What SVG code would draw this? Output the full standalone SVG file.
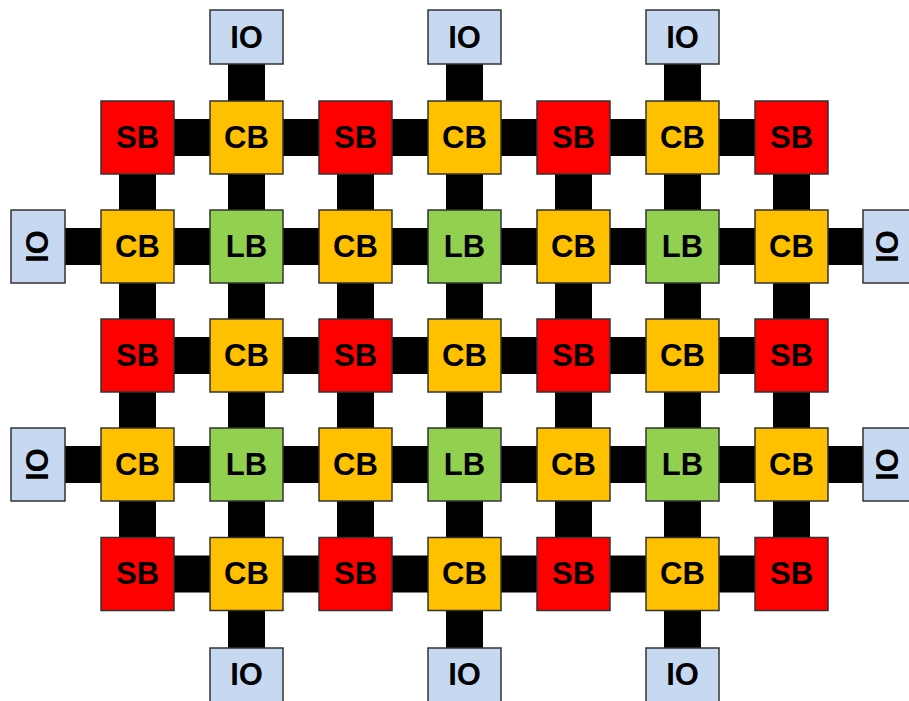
<svg xmlns="http://www.w3.org/2000/svg" width="909" height="701" viewBox="0 0 909 701">
<style>
.b{stroke:#333;stroke-width:1.5}
.sb{fill:#FF0000}.cb{fill:#FFC000}.lb{fill:#92D050}.io{fill:#C6D9F1}
text{font-family:"Liberation Sans",Arial,sans-serif;font-weight:bold;font-size:31px;text-anchor:middle;fill:#000}
.c{stroke:#000;stroke-width:37;fill:none}
</style>
<rect width="909" height="701" fill="#fff"/>
<g id="connectors" class="c">
<path d="M137.5 137.5H791.5M137.5 246.5H791.5M137.5 355.5H791.5M137.5 464.5H791.5M137.5 574H791.5"/>
<path d="M137.5 137.5V574M246.5 137.5V574M355.5 137.5V574M464.5 137.5V574M573.5 137.5V574M682.5 137.5V574M791.5 137.5V574"/>
<path d="M246.5 37V137.5M464.5 37V137.5M682.5 37V137.5"/>
<path d="M246.5 574V675M464.5 574V675M682.5 574V675"/>
<path d="M38 246.5H137.5M38 464.5H137.5M791.5 246.5H890M791.5 464.5H890"/>
</g>
<g id="io-t1"><rect class="b io" x="210" y="10" width="73" height="54"/><text x="246.5" y="47.5">IO</text></g>
<g id="io-t2"><rect class="b io" x="428" y="10" width="73" height="54"/><text x="464.5" y="47.5">IO</text></g>
<g id="io-t3"><rect class="b io" x="646" y="10" width="73" height="54"/><text x="682.5" y="47.5">IO</text></g>
<g id="io-b1"><rect class="b io" x="210" y="648" width="73" height="56"/><text x="246.5" y="685">IO</text></g>
<g id="io-b2"><rect class="b io" x="428" y="648" width="73" height="56"/><text x="464.5" y="685">IO</text></g>
<g id="io-b3"><rect class="b io" x="646" y="648" width="73" height="56"/><text x="682.5" y="685">IO</text></g>
<g id="io-l1"><rect class="b io" x="11" y="210" width="54" height="73"/><text transform="translate(38,246.5) rotate(-90)" x="0" y="9.8">IO</text></g>
<g id="io-l2"><rect class="b io" x="11" y="428" width="54" height="73"/><text transform="translate(38,464.5) rotate(-90)" x="0" y="9.8">IO</text></g>
<g id="io-r1"><rect class="b io" x="863" y="210" width="56" height="73"/><text transform="translate(888.5,246.5) rotate(-90)" x="0" y="9.8">IO</text></g>
<g id="io-r2"><rect class="b io" x="863" y="428" width="56" height="73"/><text transform="translate(888.5,464.5) rotate(-90)" x="0" y="9.8">IO</text></g>

<g id="r0c0"><rect class="b sb" x="101" y="101" width="73" height="73"/><text x="137.5" y="147.5">SB</text></g>
<g id="r0c1"><rect class="b cb" x="210" y="101" width="73" height="73"/><text x="246.5" y="147.5">CB</text></g>
<g id="r0c2"><rect class="b sb" x="319" y="101" width="73" height="73"/><text x="355.5" y="147.5">SB</text></g>
<g id="r0c3"><rect class="b cb" x="428" y="101" width="73" height="73"/><text x="464.5" y="147.5">CB</text></g>
<g id="r0c4"><rect class="b sb" x="537" y="101" width="73" height="73"/><text x="573.5" y="147.5">SB</text></g>
<g id="r0c5"><rect class="b cb" x="646" y="101" width="73" height="73"/><text x="682.5" y="147.5">CB</text></g>
<g id="r0c6"><rect class="b sb" x="755" y="101" width="73" height="73"/><text x="791.5" y="147.5">SB</text></g>

<g id="r1c0"><rect class="b cb" x="101" y="210" width="73" height="73"/><text x="137.5" y="256.5">CB</text></g>
<g id="r1c1"><rect class="b lb" x="210" y="210" width="73" height="73"/><text x="246.5" y="256.5">LB</text></g>
<g id="r1c2"><rect class="b cb" x="319" y="210" width="73" height="73"/><text x="355.5" y="256.5">CB</text></g>
<g id="r1c3"><rect class="b lb" x="428" y="210" width="73" height="73"/><text x="464.5" y="256.5">LB</text></g>
<g id="r1c4"><rect class="b cb" x="537" y="210" width="73" height="73"/><text x="573.5" y="256.5">CB</text></g>
<g id="r1c5"><rect class="b lb" x="646" y="210" width="73" height="73"/><text x="682.5" y="256.5">LB</text></g>
<g id="r1c6"><rect class="b cb" x="755" y="210" width="73" height="73"/><text x="791.5" y="256.5">CB</text></g>

<g id="r2c0"><rect class="b sb" x="101" y="319" width="73" height="73"/><text x="137.5" y="365.5">SB</text></g>
<g id="r2c1"><rect class="b cb" x="210" y="319" width="73" height="73"/><text x="246.5" y="365.5">CB</text></g>
<g id="r2c2"><rect class="b sb" x="319" y="319" width="73" height="73"/><text x="355.5" y="365.5">SB</text></g>
<g id="r2c3"><rect class="b cb" x="428" y="319" width="73" height="73"/><text x="464.5" y="365.5">CB</text></g>
<g id="r2c4"><rect class="b sb" x="537" y="319" width="73" height="73"/><text x="573.5" y="365.5">SB</text></g>
<g id="r2c5"><rect class="b cb" x="646" y="319" width="73" height="73"/><text x="682.5" y="365.5">CB</text></g>
<g id="r2c6"><rect class="b sb" x="755" y="319" width="73" height="73"/><text x="791.5" y="365.5">SB</text></g>

<g id="r3c0"><rect class="b cb" x="101" y="428" width="73" height="73"/><text x="137.5" y="474.5">CB</text></g>
<g id="r3c1"><rect class="b lb" x="210" y="428" width="73" height="73"/><text x="246.5" y="474.5">LB</text></g>
<g id="r3c2"><rect class="b cb" x="319" y="428" width="73" height="73"/><text x="355.5" y="474.5">CB</text></g>
<g id="r3c3"><rect class="b lb" x="428" y="428" width="73" height="73"/><text x="464.5" y="474.5">LB</text></g>
<g id="r3c4"><rect class="b cb" x="537" y="428" width="73" height="73"/><text x="573.5" y="474.5">CB</text></g>
<g id="r3c5"><rect class="b lb" x="646" y="428" width="73" height="73"/><text x="682.5" y="474.5">LB</text></g>
<g id="r3c6"><rect class="b cb" x="755" y="428" width="73" height="73"/><text x="791.5" y="474.5">CB</text></g>

<g id="r4c0"><rect class="b sb" x="101" y="537.5" width="73" height="73"/><text x="137.5" y="584">SB</text></g>
<g id="r4c1"><rect class="b cb" x="210" y="537.5" width="73" height="73"/><text x="246.5" y="584">CB</text></g>
<g id="r4c2"><rect class="b sb" x="319" y="537.5" width="73" height="73"/><text x="355.5" y="584">SB</text></g>
<g id="r4c3"><rect class="b cb" x="428" y="537.5" width="73" height="73"/><text x="464.5" y="584">CB</text></g>
<g id="r4c4"><rect class="b sb" x="537" y="537.5" width="73" height="73"/><text x="573.5" y="584">SB</text></g>
<g id="r4c5"><rect class="b cb" x="646" y="537.5" width="73" height="73"/><text x="682.5" y="584">CB</text></g>
<g id="r4c6"><rect class="b sb" x="755" y="537.5" width="73" height="73"/><text x="791.5" y="584">SB</text></g>
</svg>
